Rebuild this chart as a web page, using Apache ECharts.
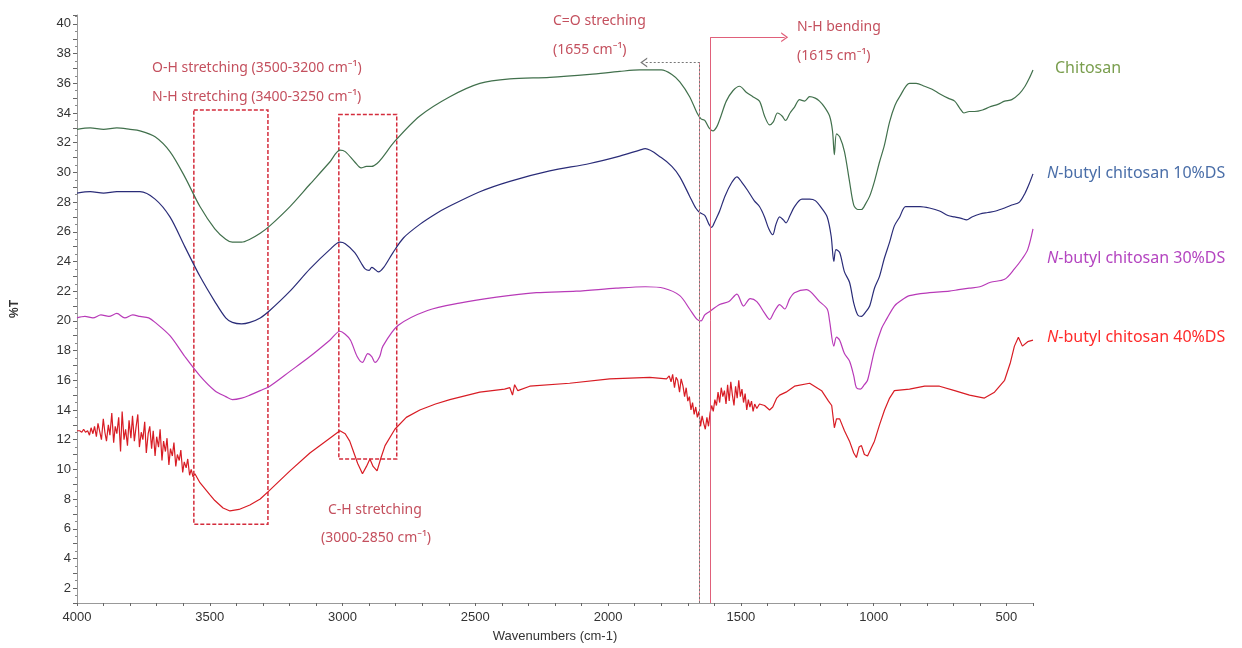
<!DOCTYPE html>
<html>
<head>
<meta charset="utf-8">
<script src="https://cdn.jsdelivr.net/npm/echarts@6/dist/echarts.min.js"></script>
<style>
  html, body { margin: 0; padding: 0; background: #fff; }
  #chart { width: 1242px; height: 648px; }
</style>
</head>
<body>
<div id="chart"></div>
<script>
// [wavenumber (cm-1), %T]
const chitosan = [
  [4000,32.9],[3950,33.0],[3900,32.9],[3850,33.0],[3800,32.9],[3763,32.8],[3706,32.4],[3650,31.4],[3594,29.7],
  [3537,27.7],[3481,26.2],[3440,25.5],[3415,25.3],[3380,25.3],[3349,25.5],[3310,25.9],[3274,26.4],[3198,27.7],
  [3123,29.2],[3048,30.7],[3010,31.5],[2990,31.4],[2954,30.7],[2930,30.3],[2910,30.4],[2890,30.4],[2870,30.6],
  [2850,31.0],[2803,32.1],[2709,33.8],[2596,35.1],[2483,36.0],[2370,36.3],[2220,36.4],[2069,36.6],[1956,36.8],
  [1881,36.9],[1800,36.9],[1760,36.6],[1730,36.1],[1693,35.1],[1665,34.0],[1650,33.6],[1636,33.5],[1620,33.0],
  [1605,32.8],[1590,33.1],[1575,33.8],[1555,34.8],[1530,35.5],[1505,35.8],[1480,35.4],[1455,35.1],[1430,34.8],
  [1411,33.8],[1392,33.2],[1378,33.4],[1362,34.0],[1345,33.8],[1332,33.5],[1315,34.0],[1298,34.4],[1279,34.9],
  [1260,34.8],[1241,35.1],[1220,35.0],[1204,34.8],[1185,34.4],[1166,33.8],[1155,32.8],[1148,31.2],[1140,32.6],
  [1128,32.4],[1110,31.4],[1091,29.4],[1075,27.8],[1060,27.5],[1046,27.5],[1030,27.9],[1015,28.4],[997,29.4],
  [978,30.7],[960,31.8],[940,33.4],[920,34.5],[902,35.1],[865,36.0],[840,36.0],[808,35.8],[780,35.6],[752,35.3],
  [720,35.0],[695,34.8],[675,34.3],[660,34.0],[640,34.1],[620,34.1],[590,34.2],[564,34.4],[530,34.6],[507,34.8],
  [480,34.9],[451,35.3],[430,35.8],[415,36.3],[400,36.9]
];
const butyl10 = [
  [4000,28.6],[3950,28.7],[3900,28.6],[3850,28.7],[3800,28.7],[3763,28.7],[3706,28.2],[3650,27.0],[3594,25.0],
  [3537,23.0],[3481,21.3],[3440,20.2],[3415,19.9],[3380,19.8],[3349,19.9],[3310,20.2],[3274,20.7],[3198,22.0],
  [3123,23.5],[3048,24.8],[3010,25.3],[2990,25.2],[2954,24.6],[2930,23.9],[2915,23.5],[2900,23.4],[2890,23.6],
  [2880,23.5],[2865,23.3],[2845,23.6],[2810,24.6],[2770,25.6],[2709,26.5],[2650,27.2],[2600,27.7],[2483,28.7],
  [2370,29.4],[2220,30.1],[2069,30.6],[1956,31.1],[1881,31.5],[1860,31.6],[1800,31.0],[1760,30.4],[1730,29.7],
  [1693,28.4],[1670,27.6],[1655,27.3],[1636,27.1],[1620,26.5],[1610,26.3],[1598,26.7],[1580,27.4],[1560,28.4],
  [1535,29.3],[1515,29.7],[1495,29.3],[1475,28.8],[1450,28.1],[1430,27.7],[1411,27.0],[1395,26.2],[1380,25.8],
  [1368,26.5],[1354,27.0],[1340,26.8],[1330,26.6],[1315,27.1],[1298,27.7],[1270,28.2],[1241,28.2],[1220,28.1],
  [1196,27.6],[1175,27.0],[1160,25.7],[1150,24.0],[1142,24.8],[1128,24.6],[1110,23.3],[1091,22.6],[1075,21.2],
  [1060,20.4],[1046,20.3],[1030,20.6],[1015,21.0],[997,22.2],[978,23.0],[960,24.2],[940,25.3],[922,26.4],
  [902,27.0],[880,27.7],[855,27.7],[825,27.7],[790,27.6],[752,27.4],[720,27.1],[695,27.0],[670,26.9],[650,26.8],
  [630,27.0],[600,27.2],[570,27.3],[540,27.4],[507,27.6],[480,27.8],[451,28.0],[430,28.6],[415,29.2],[400,29.9]
];
const butyl30 = [
  [4000,20.2],[3970,20.3],[3940,20.2],[3910,20.4],[3880,20.3],[3850,20.5],[3820,20.2],[3790,20.4],[3763,20.3],
  [3730,20.2],[3706,19.9],[3650,19.0],[3594,17.6],[3537,16.3],[3481,15.3],[3440,14.9],[3415,14.7],[3380,14.8],
  [3349,15.0],[3310,15.3],[3274,15.6],[3198,16.6],[3123,17.6],[3048,18.7],[3010,19.3],[2990,19.1],[2970,18.7],
  [2945,17.6],[2925,17.2],[2905,17.8],[2890,17.6],[2878,17.2],[2860,17.6],[2848,18.3],[2790,19.7],[2680,20.7],
  [2560,21.2],[2420,21.6],[2270,21.9],[2120,22.0],[1970,22.2],[1860,22.3],[1790,22.2],[1730,21.7],[1693,20.8],
  [1665,20.1],[1650,20.0],[1636,20.4],[1620,20.6],[1580,21.1],[1545,21.3],[1515,21.8],[1490,21.0],[1465,21.5],
  [1440,21.3],[1410,20.5],[1392,20.1],[1375,20.6],[1354,21.1],[1335,20.8],[1316,21.5],[1298,21.9],[1253,22.1],
  [1204,21.3],[1175,20.8],[1166,20.0],[1150,18.3],[1140,18.9],[1128,18.7],[1110,17.8],[1091,17.3],[1075,16.3],
  [1065,15.5],[1050,15.4],[1035,15.7],[1023,16.0],[997,18.0],[970,19.5],[952,20.1],[922,21.0],[902,21.3],
  [865,21.7],[790,21.9],[715,22.0],[680,22.1],[640,22.2],[600,22.3],[560,22.6],[507,22.8],[470,23.5],[440,24.2],
  [420,24.8],[400,26.2]
];
const butyl40 = [
  [4000,12.6],[3990,12.6],[3982,12.5],[3975,12.7],[3968,12.5],[3960,12.6],[3953,12.3],[3947,12.8],[3940,12.4],
  [3934,12.9],[3927,12.2],[3921,13.1],[3915,12.6],[3908,12.0],[3901,13.4],[3895,12.5],[3889,11.9],[3882,13.0],
  [3876,12.3],[3869,13.8],[3862,11.8],[3856,12.9],[3850,12.4],[3843,13.5],[3836,11.2],[3830,13.9],[3823,12.0],
  [3817,12.7],[3810,11.6],[3804,13.3],[3797,12.1],[3791,13.6],[3784,11.9],[3778,12.8],[3771,13.7],[3765,11.5],
  [3758,12.5],[3752,12.0],[3745,13.2],[3739,11.1],[3732,12.4],[3726,12.9],[3719,11.4],[3713,12.6],[3706,10.9],
  [3700,12.2],[3693,11.5],[3687,12.7],[3680,10.6],[3674,11.9],[3667,11.2],[3661,12.1],[3654,10.3],[3648,11.4],
  [3641,10.9],[3635,11.8],[3628,10.2],[3622,11.0],[3615,10.6],[3609,11.3],[3602,9.8],[3596,10.5],[3589,10.1],
  [3583,10.7],[3576,9.6],[3570,10.0],[3563,9.5],[3556,9.7],[3537,9.1],[3500,8.3],[3481,7.9],[3450,7.4],
  [3424,7.2],[3390,7.3],[3349,7.6],[3310,8.0],[3274,8.6],[3198,9.9],[3123,11.1],[3048,12.1],[3010,12.6],
  [2990,12.4],[2973,11.9],[2955,11.0],[2943,10.4],[2925,9.7],[2910,10.2],[2897,10.7],[2885,10.2],[2870,9.9],
  [2855,10.8],[2840,11.6],[2803,12.7],[2760,13.5],[2709,14.0],[2650,14.4],[2596,14.7],[2483,15.2],[2390,15.4],
  [2370,15.5],[2360,15.0],[2352,15.7],[2340,15.3],[2295,15.6],[2145,15.8],[1994,16.1],[1843,16.2],[1780,16.1],
  [1770,16.3],[1763,15.9],[1757,16.4],[1750,15.5],[1744,16.2],[1738,16.0],[1731,15.2],[1725,16.1],[1718,15.6],
  [1712,14.9],[1706,15.5],[1700,14.6],[1694,14.9],[1688,14.0],[1682,14.5],[1676,13.7],[1670,14.2],[1664,13.5],
  [1658,13.9],[1652,12.9],[1646,13.6],[1640,13.1],[1634,12.7],[1628,13.5],[1622,12.9],[1616,13.8],[1610,14.3],
  [1604,13.9],[1598,14.7],[1592,14.3],[1586,15.2],[1580,14.5],[1574,15.5],[1568,14.9],[1562,15.3],[1556,14.4],
  [1550,15.7],[1544,14.6],[1538,15.9],[1532,15.0],[1526,14.3],[1520,15.6],[1514,14.8],[1508,16.0],[1502,14.9],
  [1496,15.4],[1490,14.5],[1484,15.1],[1478,14.0],[1472,14.7],[1466,14.2],[1460,14.6],[1454,13.9],[1448,14.4],
  [1440,14.1],[1430,14.4],[1411,14.3],[1392,14.0],[1380,14.2],[1365,14.8],[1354,15.0],[1330,15.2],[1298,15.6],
  [1241,15.8],[1196,15.3],[1170,14.6],[1158,14.3],[1148,12.8],[1140,13.4],[1128,13.4],[1110,12.6],[1091,11.9],
  [1075,11.1],[1065,10.8],[1055,11.5],[1046,11.6],[1035,11.0],[1023,10.9],[1010,11.4],[997,11.9],[978,13.0],
  [959,14.0],[940,14.8],[922,15.3],[865,15.4],[808,15.6],[752,15.6],[695,15.3],[639,15.0],[583,14.8],[545,15.2],
  [507,16.0],[485,17.2],[470,18.3],[455,18.9],[440,18.3],[420,18.6],[400,18.7]
];

// annotation boxes: [wn from, %T top, wn to, %T bottom]
const ohBox = [3560, 34.2, 3281, 6.3];
const chBox = [3014, 33.9, 2796, 10.7];
// band markers
const coBand = 1655, coTop = 37.4, coArrowTo = 1866;
const nhBand = 1615, nhTop = 39.1, nhArrowTo = 1335;

const annotColor = '#c4505e';
const chevron = 'path://M0,10 L5,0 L10,10 L8.6,10 L5,3 L1.4,10 Z';

const chart = echarts.init(document.getElementById('chart'));

function text(x, y, t, color, size, extra) {
  return {
    type: 'text', x: x, y: y, silent: true,
    style: Object.assign({
      text: t, fill: color, fontSize: size, fontFamily: 'Noto Sans',
      verticalAlign: 'middle', align: 'left'
    }, extra || {})
  };
}
function legendText(y, label, color) {
  return text(1047, y, '{i|N}-butyl chitosan ' + label, color, 16, {
    rich: { i: { fill: color, fontStyle: 'italic', fontSize: 16, fontFamily: 'Noto Sans' } }
  });
}

chart.setOption({
  backgroundColor: '#fff',
  animation: false,
  grid: { left: 77, right: 209, top: 15, bottom: 45 },
  xAxis: {
    type: 'value', inverse: true, min: 400, max: 4000, interval: 100,
    name: 'Wavenumbers (cm-1)', nameLocation: 'middle', nameGap: 27,
    nameTextStyle: { color: '#333', fontSize: 13, fontFamily: 'Liberation Sans' },
    axisLine: { lineStyle: { color: '#999' } },
    axisTick: { length: 3, lineStyle: { color: '#666' } },
    axisLabel: {
      color: '#333', fontSize: 13, fontFamily: 'Liberation Sans', margin: 8,
      formatter: v => (v % 500 === 0 && v >= 500 ? String(v) : '')
    },
    splitLine: { show: false }
  },
  yAxis: {
    type: 'value', min: 1, max: 40.6, interval: 1,
    name: '%T', nameLocation: 'middle', nameGap: 56, nameRotate: 90,
    nameTextStyle: { color: '#333', fontSize: 12, fontWeight: 'bold', fontFamily: 'Liberation Sans' },
    axisLine: { show: true, lineStyle: { color: '#999' } },
    axisTick: { length: 4, lineStyle: { color: '#666' } },
    minorTick: { show: true, splitNumber: 2, length: 2, lineStyle: { color: '#888' } },
    axisLabel: {
      color: '#333', fontSize: 13, fontFamily: 'Liberation Sans', margin: 6,
      formatter: v => (v % 2 === 0 ? String(v) : '')
    },
    splitLine: { show: false }
  },
  series: [
    {
      name: 'Chitosan', type: 'line', data: chitosan, showSymbol: false,
      smooth: 0.3, lineStyle: { width: 1.2, color: '#41704c' },
      markArea: {
        silent: true,
        itemStyle: { color: 'rgba(0,0,0,0)', borderColor: '#d42c3c', borderWidth: 1.5, borderType: [4, 2] },
        data: [
          [{ coord: [ohBox[0], ohBox[1]] }, { coord: [ohBox[2], ohBox[3]] }],
          [{ coord: [chBox[0], chBox[1]] }, { coord: [chBox[2], chBox[3]] }]
        ]
      },
      markLine: {
        silent: true, animation: false,
        symbol: ['none', 'none'],
        label: { show: false },
        data: [
          [{ coord: [coBand, 1], lineStyle: { color: '#e8909c', width: 1, type: 'solid' } },
           { coord: [coBand, coTop] }],
          [{ coord: [coBand, 1], lineStyle: { color: '#777', width: 1, type: [2, 2] } },
           { coord: [coBand, coTop] }],
          [{ coord: [coBand, coTop], lineStyle: { color: '#777', width: 1, type: [2, 2] } },
           { coord: [coArrowTo, coTop], symbol: chevron, symbolSize: [10, 7], itemStyle: { color: annotColor } }],
          [{ coord: [nhBand, 1], lineStyle: { color: '#e0607a', width: 1, type: 'solid' } },
           { coord: [nhBand, nhTop] }],
          [{ coord: [nhBand, nhTop], lineStyle: { color: '#e0607a', width: 1, type: 'solid' } },
           { coord: [nhArrowTo, nhTop], symbol: chevron, symbolSize: [10, 7], itemStyle: { color: '#e0607a' } }]
        ]
      }
    },
    {
      name: 'N-butyl chitosan 10%DS', type: 'line', data: butyl10, showSymbol: false,
      smooth: 0.3, lineStyle: { width: 1.2, color: '#2a2c78' }
    },
    {
      name: 'N-butyl chitosan 30%DS', type: 'line', data: butyl30, showSymbol: false,
      smooth: 0.3, lineStyle: { width: 1.2, color: '#b83ab8' }
    },
    {
      name: 'N-butyl chitosan 40%DS', type: 'line', data: butyl40, showSymbol: false,
      smooth: false, lineStyle: { width: 1.2, color: '#d81c24' }
    }
  ],
  graphic: [
    text(152, 68, 'O-H stretching (3500-3200 cm⁻¹)', annotColor, 14),
    text(152, 97, 'N-H stretching (3400-3250 cm⁻¹)', annotColor, 14),
    text(328, 510, 'C-H stretching', annotColor, 14),
    text(321, 538, '(3000-2850 cm⁻¹)', annotColor, 14),
    text(553, 21, 'C=O streching', annotColor, 14),
    text(553, 50, '(1655 cm⁻¹)', annotColor, 14),
    text(797, 27, 'N-H bending', annotColor, 14),
    text(797, 56, '(1615 cm⁻¹)', annotColor, 14),
    text(1055, 68, 'Chitosan', '#7a9e4e', 16),
    legendText(173, '10%DS', '#4a6ea8'),
    legendText(258, '30%DS', '#b445c0'),
    legendText(337, '40%DS', '#ff2a2a')
  ]
});
</script>
</body>
</html>
